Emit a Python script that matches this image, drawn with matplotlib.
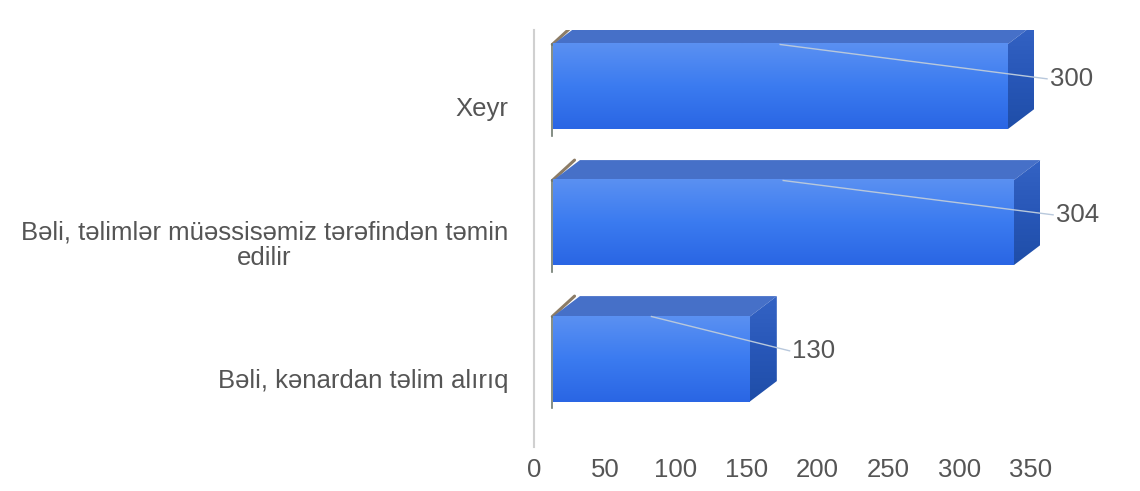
import matplotlib.pyplot as plt
import numpy as np

plt.rcParams['font.family'] = ['Liberation Sans', 'DejaVu Sans']

categories = ['Bəli, kənardan təlim alırıq',
              'Bəli, təlimlər müəssisəmiz tərəfindən təmin\nedilir',
              'Xeyr']
values = [130, 304, 300]
xticks = [0, 50, 100, 150, 200, 250, 300, 350]

W, H = 1140, 491
fig = plt.figure(figsize=(W / 100, H / 100), dpi=100)
# axes in pixel terms: left 534, right 1140, top 30, bottom 447
ax = fig.add_axes([534 / W, (H - 447) / H, (W - 534) / W, (447 - 30) / H])

px_per_unit = 70.9 / 50
xmax = (W - 534) / px_per_unit
ax.set_xlim(0, xmax)
ax.set_ylim(-0.647, 2.419)

# 3D look of the bars (front face offset / scale, depth)
x0 = 13.4          # front face start
k = 1.068          # front face length per value unit
bh = 0.625         # front face height
ddx = 19.0         # depth to the right (data units)
ddy = 0.15         # depth upward

grad = np.linspace(0, 1, 64).reshape(-1, 1)
front_cmap = plt.matplotlib.colors.LinearSegmentedColormap.from_list(
    'front', ['#2a66e4', '#3b7bf0', '#5a90f2'])
side_cmap = plt.matplotlib.colors.LinearSegmentedColormap.from_list(
    'side', ['#1f4ea8', '#2857b8', '#3463c4'])

txt_col = '#555555'
fs = 18.5

for i, v in enumerate(values):
    xl, xr = x0, x0 + k * v
    yb, yt = i - bh / 2, i + bh / 2
    # top face
    ax.fill([xl, xr, xr + ddx, xl + ddx], [yt, yt, yt + ddy, yt + ddy],
            color='#4670c8', lw=0, zorder=2)
    # side face
    side = ax.imshow(grad, cmap=side_cmap, aspect='auto', origin='lower',
                     extent=[xr, xr + ddx, yb, yt + ddy], zorder=2)
    clip = plt.Polygon([[xr, yb], [xr + ddx, yb + ddy], [xr + ddx, yt + ddy], [xr, yt]],
                       closed=True, transform=ax.transData, fc='none', ec='none')
    ax.add_patch(clip)
    side.set_clip_path(clip)
    # front face
    ax.imshow(grad, cmap=front_cmap, aspect='auto', origin='lower',
              extent=[xl, xr, yb, yt], zorder=3)
    # wall edge sliver at the left
    ax.plot([xl - 0.5, xl + ddx * 0.8], [yt, yt + ddy], color='#8c7c66', lw=2.2,
            zorder=1, solid_capstyle='round')
    ax.plot([xl - 0.8, xl - 0.8], [yb - 0.05, yt], color='#6f7a70', lw=1.2, zorder=1)

    # leader line and value label
    lx0 = xl + k * v * 0.50
    lx1 = xr + ddx + 9
    ly1 = i + 0.06
    ax.plot([lx0, lx1], [yt, ly1], color='#b8c8dc', lw=1.0, zorder=4)
    ax.text(lx1 + 2, ly1, str(v), ha='left', va='center', fontsize=fs,
            color=txt_col, zorder=5)

ax.set_xticks(xticks)
ax.set_xticklabels([str(t) for t in xticks])
ax.set_yticks([i - 0.14 for i in range(len(categories))])
ax.set_yticklabels(categories, ha='center', multialignment='center', linespacing=1.1)
ax.tick_params(axis='y', length=0, pad=0)
ax.tick_params(axis='x', length=0, pad=8)
ax.tick_params(labelsize=fs, colors=txt_col)

for s in ['top', 'right', 'bottom']:
    ax.spines[s].set_visible(False)
ax.spines['left'].set_color('#d0d0d0')
ax.spines['left'].set_linewidth(1.5)

fig.canvas.draw()
# position the category labels: right aligned block ending at x=508 px
r = fig.canvas.get_renderer()
for lab in ax.get_yticklabels():
    bb = lab.get_window_extent(r)
    cx = 508 - bb.width / 2
    x_ax = (cx - 534) / (W - 534)
    lab.set_transform(plt.matplotlib.transforms.blended_transform_factory(ax.transAxes, ax.transData))
    lab.set_x(x_ax)

fig.savefig('out.png', dpi=100)
